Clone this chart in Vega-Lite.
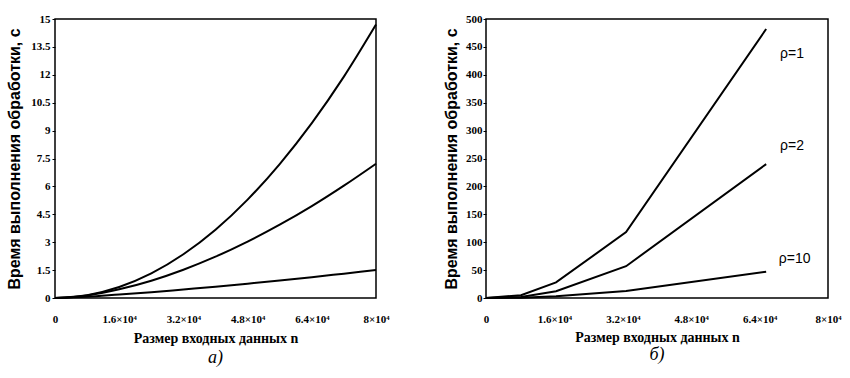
{
  "$schema": "https://vega.github.io/schema/vega-lite/v6.json",
  "background": "white",
  "padding": {"left": 5, "top": 12, "right": 5, "bottom": 5},
  "config": {
    "view": {"stroke": "black", "strokeWidth": 1.5},
    "axis": {
      "labelFont": "Liberation Serif", "labelFontWeight": "bold", "labelFontSize": 11, "labelColor": "black",
      "titleFont": "Liberation Serif", "titleFontWeight": "bold", "titleFontSize": 14, "titleColor": "black",
      "grid": false, "domainColor": "black", "tickColor": "black", "tickSize": 3, "labelOverlap": false
    },
    "axisY": {"titleFont": "Liberation Sans", "titleFontSize": 16}
  },
  "datasets": {
    "left": [
      {"n": 0, "t": 0, "s": "A"}, {"n": 8000, "t": 0.15, "s": "A"}, {"n": 16000, "t": 0.59, "s": "A"}, {"n": 24000, "t": 1.32, "s": "A"}, {"n": 32000, "t": 2.35, "s": "A"}, {"n": 40000, "t": 3.67, "s": "A"}, {"n": 48000, "t": 5.29, "s": "A"}, {"n": 56000, "t": 7.2, "s": "A"}, {"n": 64000, "t": 9.4, "s": "A"}, {"n": 72000, "t": 11.9, "s": "A"}, {"n": 80000, "t": 14.7, "s": "A"},
      {"n": 0, "t": 0, "s": "B"}, {"n": 8000, "t": 0.14, "s": "B"}, {"n": 16000, "t": 0.47, "s": "B"}, {"n": 24000, "t": 0.93, "s": "B"}, {"n": 32000, "t": 1.52, "s": "B"}, {"n": 40000, "t": 2.22, "s": "B"}, {"n": 48000, "t": 3.03, "s": "B"}, {"n": 56000, "t": 3.94, "s": "B"}, {"n": 64000, "t": 4.94, "s": "B"}, {"n": 72000, "t": 6.04, "s": "B"}, {"n": 80000, "t": 7.22, "s": "B"},
      {"n": 0, "t": 0, "s": "C"}, {"n": 8000, "t": 0.07, "s": "C"}, {"n": 16000, "t": 0.19, "s": "C"}, {"n": 24000, "t": 0.31, "s": "C"}, {"n": 32000, "t": 0.46, "s": "C"}, {"n": 40000, "t": 0.61, "s": "C"}, {"n": 48000, "t": 0.77, "s": "C"}, {"n": 56000, "t": 0.94, "s": "C"}, {"n": 64000, "t": 1.12, "s": "C"}, {"n": 72000, "t": 1.31, "s": "C"}, {"n": 80000, "t": 1.5, "s": "C"}
    ],
    "right": [
      {"n": 0, "t": 0, "s": "ρ=1"}, {"n": 8192, "t": 5, "s": "ρ=1"}, {"n": 16384, "t": 28, "s": "ρ=1"}, {"n": 32768, "t": 118, "s": "ρ=1"}, {"n": 65536, "t": 482, "s": "ρ=1"},
      {"n": 0, "t": 0, "s": "ρ=2"}, {"n": 8192, "t": 2, "s": "ρ=2"}, {"n": 16384, "t": 12, "s": "ρ=2"}, {"n": 32768, "t": 57, "s": "ρ=2"}, {"n": 65536, "t": 240, "s": "ρ=2"},
      {"n": 0, "t": 0, "s": "ρ=10"}, {"n": 8192, "t": 0.5, "s": "ρ=10"}, {"n": 16384, "t": 3, "s": "ρ=10"}, {"n": 32768, "t": 12.5, "s": "ρ=10"}, {"n": 65536, "t": 47, "s": "ρ=10"}
    ],
    "labels": [
      {"label": "ρ=1", "n": 71600, "t": 437},
      {"label": "ρ=2", "n": 71600, "t": 272},
      {"label": "ρ=10", "n": 72200, "t": 70}
    ]
  },
  "spacing": 52,
  "hconcat": [
    {
      "width": 321, "height": 279,
      "title": {"text": "а)", "orient": "bottom", "font": "Liberation Serif", "fontStyle": "italic", "fontSize": 18, "fontWeight": "normal", "color": "black", "offset": 4},
      "data": {"name": "left"},
      "mark": {"type": "line", "interpolate": "monotone", "color": "black", "strokeWidth": 2},
      "encoding": {
        "x": {"field": "n", "type": "quantitative", "scale": {"domain": [0, 80000], "nice": false},
          "axis": {"values": [0, 16000, 32000, 48000, 64000, 80000], "labelExpr": "datum.value == 0 ? '0' : (datum.value / 10000) + '×10⁴'", "title": "Размер входных данных n", "ticks": false, "domain": false, "labelPadding": 15, "titlePadding": 7, "labelFlush": false}},
        "y": {"field": "t", "type": "quantitative", "scale": {"domain": [0, 15], "nice": false},
          "axis": {"values": [0, 1.5, 3, 4.5, 6, 7.5, 9, 10.5, 12, 13.5, 15], "format": ".1~f", "title": "Время выполнения обработки, с", "domain": false, "labelPadding": 2, "titlePadding": 8, "labelFlush": false}},
        "detail": {"field": "s"}
      }
    },
    {
      "width": 342, "height": 279,
      "title": {"text": "б)", "orient": "bottom", "font": "Liberation Serif", "fontStyle": "italic", "fontSize": 18, "fontWeight": "normal", "color": "black", "offset": 2},
      "encoding": {
        "x": {"field": "n", "type": "quantitative", "scale": {"domain": [0, 80000], "nice": false},
          "axis": {"values": [0, 16000, 32000, 48000, 64000, 80000], "labelExpr": "datum.value == 0 ? '0' : (datum.value / 10000) + '×10⁴'", "title": "Размер входных данных n", "ticks": false, "domain": false, "labelPadding": 15, "titlePadding": 6, "labelFlush": false}},
        "y": {"field": "t", "type": "quantitative", "scale": {"domain": [0, 500], "nice": false},
          "axis": {"values": [0, 50, 100, 150, 200, 250, 300, 350, 400, 450, 500], "format": "d", "title": "Время выполнения обработки, с", "domain": false, "labelPadding": 1, "titlePadding": 6, "labelFlush": false}}
      },
      "layer": [
        {
          "data": {"name": "right"},
          "mark": {"type": "line", "color": "black", "strokeWidth": 2},
          "encoding": {"detail": {"field": "s"}}
        },
        {
          "data": {"name": "labels"},
          "mark": {"type": "text", "font": "Liberation Sans", "fontSize": 14, "color": "black"},
          "encoding": {"text": {"field": "label"}}
        }
      ]
    }
  ]
}
